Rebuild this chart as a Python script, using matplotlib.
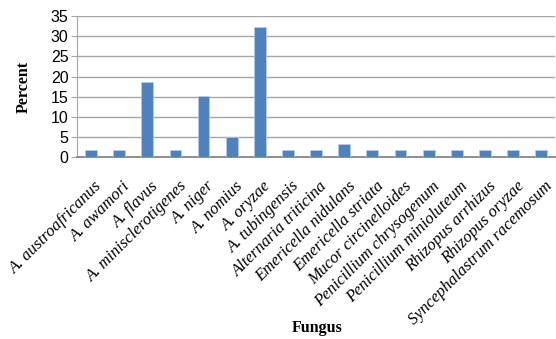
import matplotlib
matplotlib.use("Agg")
import matplotlib.pyplot as plt
import numpy as np

fungi = ["A. austroafricanus", "A. awamori", "A. flavus", "A. minisclerotigenes",
         "A. niger", "A. nomius", "A. oryzae", "A. tubingensis",
         "Alternaria triticina", "Emericella nidulans", "Emericella striata",
         "Mucor circinelloides", "Penicillium chrysogenum",
         "Penicillium minioluteum", "Rhizopus arrhizus", "Rhizopus oryzae",
         "Syncephalastrum racemosum"]
percent = [1.7, 1.7, 18.6, 1.7, 15.3, 5.0, 32.2, 1.7, 1.7, 3.4, 1.7,
           1.7, 1.7, 1.7, 1.7, 1.7, 1.7]

fig = plt.figure(figsize=(5.56, 3.39), dpi=100)
ax = fig.add_axes([0.1385, 0.536, 0.86, 0.417])

x = np.arange(len(fungi))
ax.bar(x, percent, width=0.42, color="#4F81BD", edgecolor="#B9CDE5",
       linewidth=0.5, zorder=3)

ax.set_xlim(-0.5, len(fungi) - 0.5)
ax.set_ylim(0, 35)
ax.set_yticks(range(0, 36, 5))
ax.yaxis.grid(True, color="#A6A6A6", linewidth=1.0, zorder=0)

for side in ["top", "right"]:
    ax.spines[side].set_visible(False)
ax.spines["left"].set_color("#A6A6A6")
ax.spines["bottom"].set_color("#868686")
ax.spines["bottom"].set_linewidth(1.3)

ax.tick_params(axis="y", length=4, color="#A6A6A6", labelsize=11.5, pad=2)
ax.tick_params(axis="x", length=0, pad=15)
for lab in ax.get_yticklabels():
    lab.set_family("Liberation Sans")

# rotated labels: shift slightly right so their ends sit just past the bars
ax.set_xticks(x + 0.12)
ax.set_xticklabels(fungi, rotation=45, ha="right", rotation_mode="anchor",
                   family="Liberation Serif", style="italic", fontsize=12)

ax.set_ylabel("Percent", family="Liberation Serif", fontweight="bold",
              fontsize=11.5, labelpad=14)
fig.text(0.57, 0.01, "Fungus", family="Liberation Serif", fontweight="bold",
         fontsize=11.5, ha="center", va="bottom")

fig.savefig("out.png", dpi=100)
